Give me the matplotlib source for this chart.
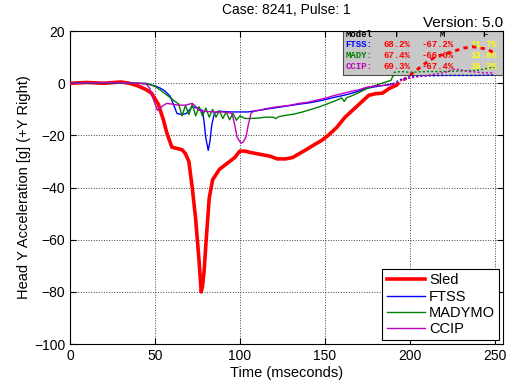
import numpy as np
import matplotlib
matplotlib.use('Agg')
from matplotlib import pyplot as plt
from matplotlib.patches import Rectangle

plt.rcParams['font.family'] = ['Liberation Sans', 'DejaVu Sans']

# time of end of the evaluation window (solid before, dotted after)
t_cut = 190

sled_t = [0, 10, 20, 30, 35, 40, 45, 48, 52, 55, 57, 60, 63, 66, 68, 70, 72, 74, 75, 76,
          77.3, 78, 79, 80, 81, 82, 84, 86, 88, 91, 94, 97, 100, 103, 106, 110, 114, 118,
          122, 127, 131, 135, 139, 144, 148, 152, 157, 162, 167, 172, 176, 180, 184, 188,
          192, 197, 202, 207, 212, 217, 222, 227, 232, 237, 242, 246, 250]
sled_g = [0, 0.3, 0, 0.5, 0, -1, -2.5, -3.8, -8, -14, -19, -24.5, -25, -25.5, -27, -30,
          -40, -52, -60, -68, -80, -78, -72, -62, -53, -44, -37, -35, -33, -31.5, -30,
          -28.5, -26, -26, -26.5, -27, -27.5, -28, -29, -29, -28.5, -27, -25.5, -23.5, -22,
          -20, -17, -13, -10, -7, -4.6, -4, -3.8, -2, -0.8, 1.5, 4, 6.5, 9, 10.5, 11.5,
          12.5, 13.5, 14, 13.5, 13, 11.5]

ftss_t = [0, 20, 40, 45, 50, 53, 56, 59, 61.5, 63, 66, 68.5, 70, 72, 75, 78, 79, 80, 81.4,
          82.5, 83.5, 85, 87, 90, 95, 100, 105, 110, 115, 120, 125, 130, 135, 140, 145, 150,
          155, 160, 165, 170, 175, 180, 185, 190, 195, 200, 210, 220, 230, 240, 250]
ftss_g = [0, 0.2, 0, -0.2, -1, -1.8, -3, -5, -9, -11.6, -12, -11.6, -10.5, -9, -9.5, -10.4,
          -15, -21, -25.7, -22, -16, -11.6, -10.8, -10.8, -11, -11, -11, -10.5, -10, -9.5,
          -9, -8.5, -8, -7.6, -7, -6.3, -5.5, -4.8, -4, -3, -1.9, -1.3, -0.8, -0.2, 1.5,
          2.5, 2.8, 3, 3, 3, 3.2]

mady_t = [0, 20, 40, 45, 50, 53, 56, 59, 62, 64, 66, 68, 70, 72, 74, 76, 78, 80, 82, 84,
          86, 88, 90, 92, 94, 96, 98, 100, 103, 106, 110, 115, 120, 121, 123, 127, 132, 137,
          142, 147, 152, 157, 160, 161.5, 163, 166, 170, 175, 180, 185, 189, 190, 191, 195,
          200, 210, 220, 230, 240, 248, 250]
mady_g = [0, 0.2, 0, 0, -1.2, -2.5, -4, -5.5, -7, -8, -12.5, -8.5, -12, -8, -12.5, -9,
          -12.5, -9.5, -13, -10, -13, -10.5, -13.5, -11, -14, -11.5, -14.2, -12.5, -13.5,
          -13.5, -13.4, -13, -13, -13.6, -12.8, -12.3, -11.8, -11, -10, -9, -7.8, -6.5,
          -5.6, -7, -5.5, -4.8, -3.6, -2, -0.8, 0.3, 1.1, 2.5, 4.2, 4.5, 4.2, 4.5, 4.5, 4.7,
          5, 6, 6]

ccip_t = [0, 20, 40, 45, 47, 49, 51.5, 53, 55, 57, 60, 64, 68, 72, 74, 76, 80, 85, 90, 93,
          95.4, 97, 98.4, 100.7, 102, 103.6, 105, 106.6, 108, 111, 115, 120, 125, 130, 135,
          140, 145, 150, 155, 160, 165, 170, 175, 180, 185, 190, 195, 200, 210, 220, 227,
          235, 245, 250]
ccip_g = [0, 0.3, 0, -0.3, -2, -6, -10.4, -9.5, -8.5, -7.7, -8, -8.4, -8.4, -7.7, -8.8,
          -10.4, -10.8, -11, -11, -11.2, -11.6, -16, -20.7, -23, -22.5, -20.7, -16, -11.6,
          -10.8, -10.4, -9.8, -9.2, -8.8, -8.4, -7.7, -7.3, -6.5, -5.8, -4.8, -4, -3.2,
          -2.5, -1.5, -1, -0.8, -0.5, 1, 2, 3, 4, 5.5, 4.5, 4, 4]

names = ['Sled', 'FTSS', 'MADYMO', 'CCIP']
colors = ['#ff0000', '#0000ff', '#008000', '#c000c0']
widths = [2.6, 1.0, 1.0, 1.0]
series = [(sled_t, sled_g), (ftss_t, ftss_g), (mady_t, mady_g), (ccip_t, ccip_g)]

# correlation table
tbl_models = ['FTSS:', 'MADY:', 'CCIP:']
tbl_T = ['68.2%', '67.4%', '69.3%']
tbl_M = ['-67.2%', '-66.0%', '-67.4%']
tbl_F = ['11.7%', '13.6%', '16.2%']

fig = plt.figure(figsize=(5.09, 3.84), dpi=100)
ax = fig.add_axes([0.1375, 0.104, 0.8507, 0.815])

for (t, g), name, c, w in zip(series, names, colors, widths):
    t = np.array(t, dtype=float)
    g = np.array(g, dtype=float)
    i = np.searchsorted(t, t_cut)
    ax.plot(t[:i + 1], g[:i + 1], color=c, lw=w, label=name, zorder=3)
    ax.plot(t[i:], g[i:], color=c, lw=w * 0.8 if w > 2 else w, ls=(0, (1.5, 1.5)), zorder=3)

ax.set_xlim(0, 255)
ax.set_ylim(-100, 20)
ax.set_xticks(np.arange(0, 251, 50))
ax.set_yticks(np.arange(-100, 21, 20))
ax.tick_params(direction='in', top=True, right=True, labelsize=10, length=4)
ax.grid(True, ls=':', color='0.25', lw=0.7)
ax.set_axisbelow(True)

ax.set_xlabel('Time (mseconds)', fontsize=10.5, labelpad=2)
ax.set_ylabel('Head Y Acceleration [g] (+Y Right)', fontsize=10.5, labelpad=2)
ax.set_title('Case: 8241, Pulse: 1', fontsize=10, pad=12)
fig.text(0.988, 0.922, 'Version: 5.0', ha='right', va='bottom', fontsize=11)

# info box
ax.add_patch(Rectangle((0.63, 0.859), 0.37, 0.141, transform=ax.transAxes,
                       facecolor='#c8c8c8', edgecolor='0.3', lw=0.8, zorder=1))
mono = dict(family='Liberation Mono', fontsize=6.5, fontweight='bold',
            transform=ax.transAxes, va='center', zorder=2)
ax.text(0.636, 0.988, 'Model', color='k', ha='left', **mono)
ax.text(0.755, 0.988, 'T', color='k', ha='center', **mono)
ax.text(0.861, 0.988, 'M', color='k', ha='center', **mono)
ax.text(0.958, 0.988, 'F', color='k', ha='center', **mono)
for k, y in enumerate([0.958, 0.923, 0.888]):
    ax.text(0.636, y, tbl_models[k], color=colors[k + 1], ha='left', **mono)
    ax.text(0.723, y, tbl_T[k], color='#ff0000', ha='left', **mono)
    ax.text(0.813, y, tbl_M[k], color='#ff0000', ha='left', **mono)
    ax.text(0.924, y, tbl_F[k], color='#ffff00', ha='left', **mono)

leg = ax.legend(loc='lower right', fontsize=10.5, fancybox=False, framealpha=1,
                edgecolor='k', handlelength=2.6, borderaxespad=0.25,
                labelspacing=0.15, handletextpad=0.3, borderpad=0.3)
leg.get_frame().set_linewidth(0.8)

fig.savefig('out.png', dpi=100)
